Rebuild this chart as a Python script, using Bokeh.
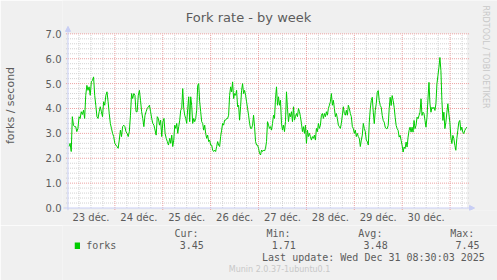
import numpy as np
from bokeh.plotting import figure
from bokeh.layouts import column
from bokeh.models import (Range1d, LinearAxis, FixedTicker, Arrow, NormalHead,
                          ColumnDataSource)
from bokeh.core.properties import value
from bokeh.embed import file_html
from bokeh.resources import INLINE

# ---------------- data ----------------
title = "Fork rate - by week"
y_label = "forks / second"
series_name = "forks"
watermark = "RRDTOOL / TOBI OETIKER"
footer = "Munin 2.0.37-1ubuntu0.1"
last_update = "Last update: Wed Dec 31 08:30:03 2025"

# x axis: hours since 23 déc. 00:00 (graph ends 31 déc. 08:30)
x_start_h = 0.5
x_end_h = 200.5
day_ticks = [12, 36, 60, 84, 108, 132, 156, 180]
day_labels = ["23 déc.", "24 déc.", "25 déc.", "26 déc.",
              "27 déc.", "28 déc.", "29 déc.", "30 déc."]
day_bounds = [24, 48, 72, 96, 120, 144, 168, 192]
six_hours = [6, 12, 18, 30, 36, 42, 54, 60, 66, 78, 84, 90, 102, 108, 114,
             126, 132, 138, 150, 156, 162, 174, 180, 186, 198]

y_ticks = [0, 1, 2, 3, 4, 5, 6, 7]
y_tick_labels = ["0.0", "1.0", "2.0", "3.0", "4.0", "5.0", "6.0", "7.0"]
y_minor = [0.2, 0.4, 0.6, 0.8, 1.2, 1.4, 1.6, 1.8, 2.2, 2.4, 2.6, 2.8,
           3.2, 3.4, 3.6, 3.8, 4.2, 4.4, 4.6, 4.8, 5.2, 5.4, 5.6, 5.8,
           6.2, 6.4, 6.6, 6.8]

stat_headers = ["Cur:", "Min:", "Avg:", "Max:"]
stat_values = ["3.45", "1.71", "3.48", "7.45"]

# forks/second, four stretches of the week
seg1_hours = (1.0, 50.85)
seg1 = [2.47, 2.6, 2.27, 3.67, 3.33, 3.27, 3.27, 3.07, 3.2, 3.67,
        3.6, 3.87, 3.76, 3.93, 3.6, 4.53, 4.93, 4.73, 4.87, 4.53,
        5.07, 5.13, 5.27, 4.53, 4.13, 3.67, 3.6, 3.87, 4.07, 3.87,
        3.67, 4.27, 4.13, 4.53, 4.67, 4.27, 3.8, 3.4, 3.2, 3.0,
        2.87, 2.6, 2.53, 2.47, 2.4, 2.73, 3.13, 2.87, 3.27, 3.33,
        3.27, 3.07, 3.0, 2.87, 3.07, 3.73, 4.6, 4.4, 4.6, 4.53,
        3.87, 3.87, 4.53, 4.73, 4.33, 3.87, 3.6, 3.27, 3.73, 3.87,
        4.0, 4.07, 4.13, 3.87, 3.6, 3.4, 3.33, 3.13, 2.93, 3.67,
        3.6, 3.33, 3.53, 2.87, 3.47, 3.6, 3.0, 2.8, 2.67, 2.53]
seg2_hours = (51.5, 100.0)
seg2 = [2.8, 2.6, 2.93, 2.47, 2.73, 3.33, 3.2, 3.4, 3.0, 3.27,
        3.53, 3.93, 4.0, 4.8, 4.0, 3.73, 3.6, 3.4, 4.0, 4.47,
        3.47, 4.47, 4.13, 3.4, 3.6, 3.47, 3.6, 3.93, 4.93, 5.0,
        4.27, 3.87, 3.47, 3.4, 3.13, 3.33, 3.0, 2.8, 2.93, 2.67,
        2.73, 2.53, 2.53, 2.33, 2.27, 2.33, 2.27, 2.47, 2.67, 2.53,
        2.47, 2.87, 3.13, 3.4, 3.33, 3.53, 3.53, 3.6, 3.6, 3.73,
        4.53, 4.87, 4.67, 5.07, 4.4, 4.6, 4.53, 4.73, 4.07, 4.13,
        3.53, 4.07, 4.73, 5.0, 4.6, 4.73, 4.53, 4.27, 4.0, 3.73,
        3.4, 3.2, 3.2, 3.33, 3.73, 3.27, 2.67, 2.53, 2.53, 2.4,
        2.2, 2.13, 2.33, 2.27, 2.33, 2.29, 2.4, 2.67]
seg3_hours = (100.5, 151.0)
seg3 = [3.47, 3.33, 3.2, 3.27, 3.13, 3.4, 3.73, 3.6, 4.4, 4.87,
        4.13, 4.47, 4.13, 4.33, 3.4, 3.13, 3.33, 3.07, 3.47, 4.67,
        4.0, 3.47, 3.8, 3.67, 3.87, 3.47, 4.07, 3.53, 3.67, 3.8,
        3.67, 4.0, 3.87, 3.67, 3.4, 3.07, 3.27, 3.0, 3.33, 2.6,
        3.13, 2.87, 3.0, 2.87, 2.73, 2.87, 2.8, 2.93, 2.73, 3.2,
        3.07, 3.4, 3.2, 3.33, 3.73, 3.8, 3.6, 3.8, 3.67, 3.87,
        3.73, 4.0, 4.13, 4.27, 4.6, 4.13, 4.33, 4.0, 3.67, 3.8,
        3.6, 3.33, 3.27, 3.2, 3.4, 3.73, 4.07, 3.8, 3.73, 3.93,
        3.73, 4.13, 4.0, 3.8, 3.67, 3.27, 3.2, 3.0, 3.13, 2.87,
        3.0, 2.87, 2.8, 2.47, 2.73, 2.93, 3.4, 3.2, 3.07, 2.73,
        2.67, 2.53]
seg4_hours = (151.5, 200.35)
seg4 = [3.45, 3.99, 4.32, 4.45, 3.85, 3.39, 3.92, 4.19, 4.65, 4.72,
        4.32, 4.12, 4.05, 3.72, 3.52, 3.45, 3.25, 3.19, 3.19, 3.32,
        3.99, 4.45, 4.12, 4.52, 4.32, 4.05, 3.65, 3.32, 3.19, 3.12,
        2.85, 2.92, 2.72, 2.52, 2.25, 2.45, 2.39, 2.65, 2.45, 2.85,
        3.12, 3.25, 3.05, 3.25, 3.05, 3.52, 3.19, 3.32, 3.65, 3.59,
        3.72, 3.85, 4.39, 3.72, 3.85, 3.79, 3.52, 3.25, 3.65, 4.39,
        5.05, 4.19, 3.85, 4.05, 3.99, 4.05, 3.92, 4.19, 4.99, 5.32,
        5.65, 6.05, 5.52, 4.32, 3.52, 3.85, 3.19, 3.45, 3.85, 4.19,
        3.79, 3.45, 2.85, 2.59, 2.92, 2.79, 2.52, 2.32, 2.79, 3.12,
        3.45, 3.52, 3.12, 3.25, 3.05, 2.99, 3.12, 3.19, 3.25]

segments = [(seg1_hours, seg1), (seg2_hours, seg2), (seg3_hours, seg3), (seg4_hours, seg4)]
hours = np.concatenate([np.linspace(h[0], h[1], len(v)) for h, v in segments])
values = np.concatenate([np.array(v) for h, v in segments])

# ---------------- style ----------------
BG = "#F0F0F0"
FONT_COL = "#5c5c5c"
AXIS_COL = "#C8CEF4"
LINE_COL = "#00CC00"
MINOR_COL = "#d2d2d2"
MAJOR_COL = "#eba2a2"
MARK_COL = "#c8c8c8"
SANS = "DejaVu Sans"
MONO = "DejaVu Sans Mono"

W = 497
MAIN_H = 225
BOT_H = 55
FRAME_LEFT = 61
FRAME_BOTTOM = 211

# canvas pixel -> data helpers (2 px per hour, 25 px per fork/s)
def hx(px):
    return (px - 66.5) / 2 + 0.5

def vy(py):
    return (208.5 - py) / 25

# ---------------- main graph ----------------
p = figure(width=W, height=MAIN_H, x_range=Range1d(hx(FRAME_LEFT), hx(W)),
           y_range=Range1d(vy(FRAME_BOTTOM), vy(0)),
           x_axis_type=None, y_axis_type=None, toolbar_location=None, output_backend="svg",
           min_border_left=FRAME_LEFT, min_border_right=0, min_border_top=0,
           min_border_bottom=MAIN_H - FRAME_BOTTOM,
           background_fill_color=BG, border_fill_color=BG, outline_line_color=None)

# white canvas
p.quad(left=[x_start_h], right=[x_end_h], bottom=[0], top=[7], fill_color="#FFFFFF",
       line_color=None)

# grid (dotted, as rrdtool draws it)
gx0, gx1 = hx(64.5), hx(468.5)
p.segment(x0=six_hours, x1=six_hours, y0=[0] * len(six_hours), y1=[7] * len(six_hours),
          line_color=MINOR_COL, line_dash="1 1", line_width=1)
p.segment(x0=[gx0] * len(y_minor), x1=[gx1] * len(y_minor), y0=y_minor, y1=y_minor,
          line_color=MINOR_COL, line_dash="1 1", line_width=1)
p.segment(x0=day_bounds, x1=day_bounds, y0=[vy(210.5)] * len(day_bounds),
          y1=[7] * len(day_bounds), line_color=MAJOR_COL, line_dash="1 1", line_width=1)
p.segment(x0=[gx0] * 7, x1=[gx1] * 7, y0=y_ticks[1:], y1=y_ticks[1:],
          line_color=MAJOR_COL, line_dash="1 1", line_width=1)

# data line
src = ColumnDataSource(dict(h=hours, v=values))
p.line("h", "v", source=src, line_color=LINE_COL, line_width=1)

# axis lines with arrows
p.add_layout(Arrow(x_start=x_start_h, y_start=vy(211), x_end=x_start_h, y_end=vy(26),
                   line_color=AXIS_COL, line_width=1,
                   end=NormalHead(size=5, fill_color=AXIS_COL, line_color=AXIS_COL)))
p.add_layout(Arrow(x_start=hx(62), y_start=0, x_end=hx(474), y_end=0,
                   line_color=AXIS_COL, line_width=1,
                   end=NormalHead(size=5, fill_color=AXIS_COL, line_color=AXIS_COL)))

# title and rrdtool watermark
p.text(x=[hx(247.5)], y=[vy(17.5)], text=[title], text_font=value(SANS),
       text_font_size="13px", text_color=FONT_COL, text_align="center",
       text_baseline="alphabetic")
p.text(x=[hx(485)], y=[vy(5)], text=[watermark], text_font=value(SANS),
       text_font_size="8px", text_color=MARK_COL, text_align="left",
       text_baseline="alphabetic", angle=-np.pi / 2)

common = dict(axis_line_color=None, major_tick_line_color=None, minor_tick_line_color=None,
              major_tick_in=0, major_tick_out=0, minor_tick_in=0, minor_tick_out=0,
              major_label_text_font=SANS, major_label_text_font_size="10px",
              major_label_text_color=FONT_COL, axis_label_text_font=SANS,
              axis_label_text_font_style="normal", axis_label_text_color=FONT_COL)

yaxis = LinearAxis(ticker=FixedTicker(ticks=y_ticks),
                   major_label_overrides={t: l for t, l in zip(y_ticks, y_tick_labels)},
                   major_label_standoff=1, axis_label=y_label,
                   axis_label_text_font_size="11px", axis_label_standoff=26, **common)
p.add_layout(yaxis, "left")

xaxis = LinearAxis(ticker=FixedTicker(ticks=day_ticks),
                   major_label_overrides={t: l for t, l in zip(day_ticks, day_labels)},
                   major_label_standoff=1, **common)
p.add_layout(xaxis, "below")

# ---------------- legend / footer ----------------
b = figure(width=W, height=BOT_H, x_range=Range1d(0, W), y_range=Range1d(MAIN_H + BOT_H, MAIN_H),
           x_axis_type=None, y_axis_type=None, toolbar_location=None, output_backend="svg",
           min_border=0, min_border_left=0, min_border_right=0, min_border_top=0,
           min_border_bottom=0, background_fill_color=BG, border_fill_color=BG,
           outline_line_color=None)

b.quad(left=[14], right=[20], top=[242], bottom=[248.5], fill_color=LINE_COL, line_color=None)
b.text(x=[27], y=[244.5], text=[series_name], text_font=value(MONO), text_font_size="10px",
       text_color=FONT_COL, text_align="left", text_baseline="middle")
b.text(x=[155.5, 260.5, 365.5, 470.5], y=[233] * 4, text=stat_headers, text_font=value(MONO),
       text_font_size="10px", text_color=FONT_COL, text_align="right", text_baseline="middle")
b.text(x=[161.5, 266.5, 371.5, 476.5], y=[244.5] * 4, text=stat_values, text_font=value(MONO),
       text_font_size="10px", text_color=FONT_COL, text_align="right", text_baseline="middle")
b.text(x=[482.5], y=[257], text=[last_update], text_font=value(MONO), text_font_size="10px",
       text_color=FONT_COL, text_align="right", text_baseline="middle")
b.text(x=[248], y=[268.5], text=[footer], text_font=value(SANS), text_font_size="8px",
       text_color=MARK_COL, text_align="center", text_baseline="middle")

layout = column(p, b, spacing=0)
open("out.html", "w").write(file_html(layout, INLINE))
